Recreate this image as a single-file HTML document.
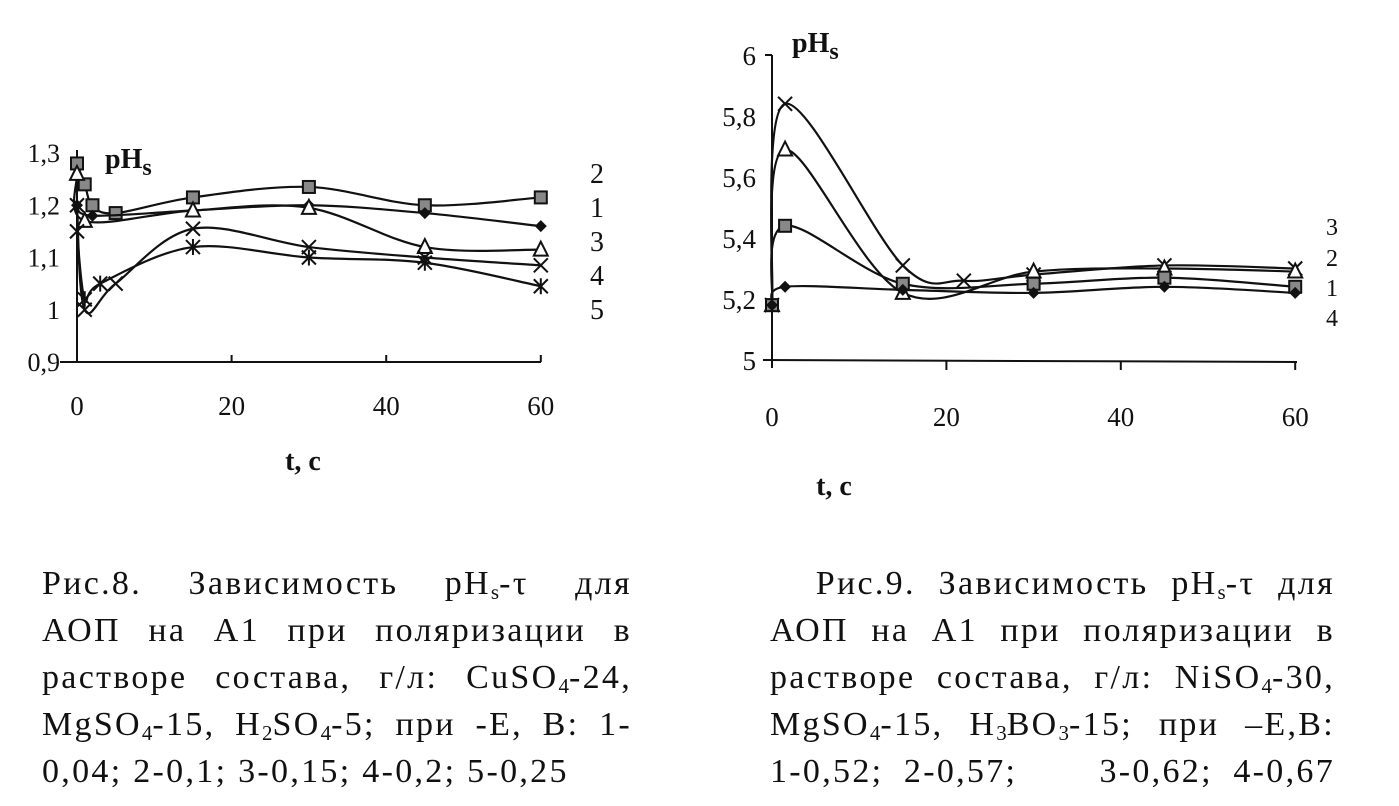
<!DOCTYPE html>
<html><head><meta charset="utf-8">
<style>
html,body{margin:0;padding:0;background:#fff;}
body{width:1399px;height:806px;position:relative;overflow:hidden;font-family:"Liberation Serif",serif;color:#111;}
.cap{position:absolute;font-size:34px;line-height:47px;letter-spacing:2.3px;}
.cap div{height:47px;text-align:justify;text-align-last:justify;white-space:nowrap;}
.cap div.l{text-align-last:left;}
.cap sub{font-size:21px;line-height:0;vertical-align:-5px;letter-spacing:0;}
svg{position:absolute;left:0;top:0;}
</style></head><body>
<svg id="s" width="1399" height="806" xmlns="http://www.w3.org/2000/svg" font-family="Liberation Serif, serif" fill="#111"></svg>
<div class="cap" style="left:42px;top:560px;width:590px;">
<div>Рис.8. Зависимость pH<sub>s</sub>-τ для</div>
<div>АОП на А1 при поляризации в</div>
<div>растворе состава, г/л: CuSO<sub>4</sub>-24,</div>
<div>MgSO<sub>4</sub>-15, H<sub>2</sub>SO<sub>4</sub>-5; при -Е, В: 1-</div>
<div class="l">0,04; 2-0,1; 3-0,15; 4-0,2; 5-0,25</div>
</div>
<div class="cap" style="left:770px;top:560px;width:565px;">
<div>&nbsp;&nbsp;Рис.9. Зависимость pH<sub>s</sub>-τ для</div>
<div>АОП на А1 при поляризации в</div>
<div>растворе состава, г/л: NiSO<sub>4</sub>-30,</div>
<div>MgSO<sub>4</sub>-15, H<sub>3</sub>BO<sub>3</sub>-15; при –Е,В:</div>
<div>1-0,52; 2-0,57;&nbsp;&nbsp;&nbsp; 3-0,62; 4-0,67</div>
</div>
<script>
var s=document.getElementById('s'),h='';
function path(pts){var d='M'+pts[0][0]+','+pts[0][1];for(var i=0;i<pts.length-1;i++){var p0=pts[i-1]||pts[i],p1=pts[i],p2=pts[i+1],p3=pts[i+2]||p2;
d+=' C'+(p1[0]+(p2[0]-p0[0])/6)+','+(p1[1]+(p2[1]-p0[1])/6)+' '+(p2[0]-(p3[0]-p1[0])/6)+','+(p2[1]-(p3[1]-p1[1])/6)+' '+p2[0]+','+p2[1];}
return '<path d="'+d+'" fill="none" stroke="#111" stroke-width="2.2"/>';}
function mk(t,x,y){var r=6;
if(t=='sq')return '<rect x="'+(x-r)+'" y="'+(y-r)+'" width="'+2*r+'" height="'+2*r+'" fill="#888" stroke="#111" stroke-width="2"/>';
if(t=='di')return '<path d="M'+x+','+(y-r)+' L'+(x+r)+','+y+' L'+x+','+(y+r)+' L'+(x-r)+','+y+'Z" fill="#111"/>';
if(t=='tr')return '<path d="M'+x+','+(y-8)+' L'+(x+7)+','+(y+6)+' L'+(x-7)+','+(y+6)+'Z" fill="#fff" stroke="#111" stroke-width="2"/>';
if(t=='x')return '<path d="M'+(x-7)+','+(y-7)+' L'+(x+7)+','+(y+7)+' M'+(x+7)+','+(y-7)+' L'+(x-7)+','+(y+7)+'" stroke="#111" stroke-width="2"/>';
if(t=='st')return '<path d="M'+(x-7)+','+(y-7)+' L'+(x+7)+','+(y+7)+' M'+(x+7)+','+(y-7)+' L'+(x-7)+','+(y+7)+' M'+x+','+(y-8)+' L'+x+','+(y+8)+'" stroke="#111" stroke-width="2"/>';}
function chart(X,Y,series){series.forEach(function(se){var pts=se[1].map(function(p){return [X(p[0]),Y(p[1])]});h+=path(pts);pts.forEach(function(p){h+=mk(se[0],p[0],p[1])});});}
// left
var LX=function(t){return 77+t*7.73},LY=function(v){return 362-(v-0.9)*522.5};
h+='<line x1="77" y1="150" x2="77" y2="362" stroke="#111" stroke-width="2"/><line x1="60" y1="362" x2="541" y2="362" stroke="#111" stroke-width="2"/>';
[20,40,60].forEach(function(t){h+='<line x1="'+LX(t)+'" y1="355" x2="'+LX(t)+'" y2="362" stroke="#111" stroke-width="2"/>'});
['0,9','1','1,1','1,2','1,3'].forEach(function(l,i){h+='<text x="60" y="'+(LY(0.9+i*0.1)+9)+'" font-size="26" text-anchor="end">'+l+'</text>'});
[0,20,40,60].forEach(function(t){h+='<text x="'+LX(t)+'" y="415" font-size="27" text-anchor="middle">'+t+'</text>'});
h+='<text x="105" y="168" font-size="28" font-weight="bold">pH<tspan font-size="24" dy="7">s</tspan></text>';
h+='<text x="303" y="470" font-size="28" font-weight="bold" text-anchor="middle">t, c</text>';
chart(LX,LY,[
['sq',[[0,1.28],[1,1.24],[2,1.2],[5,1.185],[15,1.215],[30,1.235],[45,1.2],[60,1.215]]],
['di',[[0,1.2],[2,1.18],[15,1.19],[30,1.2],[45,1.185],[60,1.16]]],
['tr',[[0,1.26],[1,1.17],[15,1.19],[30,1.195],[45,1.12],[60,1.115]]],
['x',[[0,1.2],[1,1.0],[5,1.05],[15,1.155],[30,1.12],[45,1.1],[60,1.085]]],
['st',[[0,1.15],[1,1.02],[3,1.05],[15,1.12],[30,1.1],[45,1.09],[60,1.045]]]]);
['2','1','3','4','5'].forEach(function(l,i){h+='<text x="590" y="'+(183+i*34)+'" font-size="28">'+l+'</text>'});
// right
var RX=function(t){return 772+t*8.72},RY=function(v){return 360-(v-5)*305};
h+='<line x1="772" y1="55" x2="772" y2="368" stroke="#111" stroke-width="2"/><line x1="765" y1="55" x2="772" y2="55" stroke="#111" stroke-width="2"/><line x1="763" y1="360" x2="1297" y2="362" stroke="#111" stroke-width="2"/>';
[20,40,60].forEach(function(t){h+='<line x1="'+RX(t)+'" y1="361" x2="'+RX(t)+'" y2="370" stroke="#111" stroke-width="2"/>'});
['5','5,2','5,4','5,6','5,8','6'].forEach(function(l,i){h+='<text x="756" y="'+(RY(5+i*0.2)+10)+'" font-size="27" text-anchor="end">'+l+'</text>'});
[0,20,40,60].forEach(function(t){h+='<text x="'+RX(t)+'" y="426" font-size="27" text-anchor="middle">'+t+'</text>'});
h+='<text x="792" y="52" font-size="28" font-weight="bold">pH<tspan font-size="24" dy="7">s</tspan></text>';
h+='<text x="834" y="495" font-size="28" font-weight="bold" text-anchor="middle">t, c</text>';
chart(RX,RY,[
['x',[[0,5.18],[1.5,5.84],[15,5.31],[22,5.26],[30,5.28],[45,5.31],[60,5.3]]],
['tr',[[0,5.18],[1.5,5.69],[15,5.22],[30,5.29],[45,5.3],[60,5.29]]],
['sq',[[0,5.18],[1.5,5.44],[15,5.25],[30,5.25],[45,5.27],[60,5.24]]],
['di',[[0,5.18],[1.5,5.24],[15,5.23],[30,5.22],[45,5.24],[60,5.22]]]]);
[['3',235],['2',266],['1',296],['4',326]].forEach(function(l){h+='<text x="1326" y="'+l[1]+'" font-size="24">'+l[0]+'</text>'});
s.innerHTML=h;
</script>
</body></html>
